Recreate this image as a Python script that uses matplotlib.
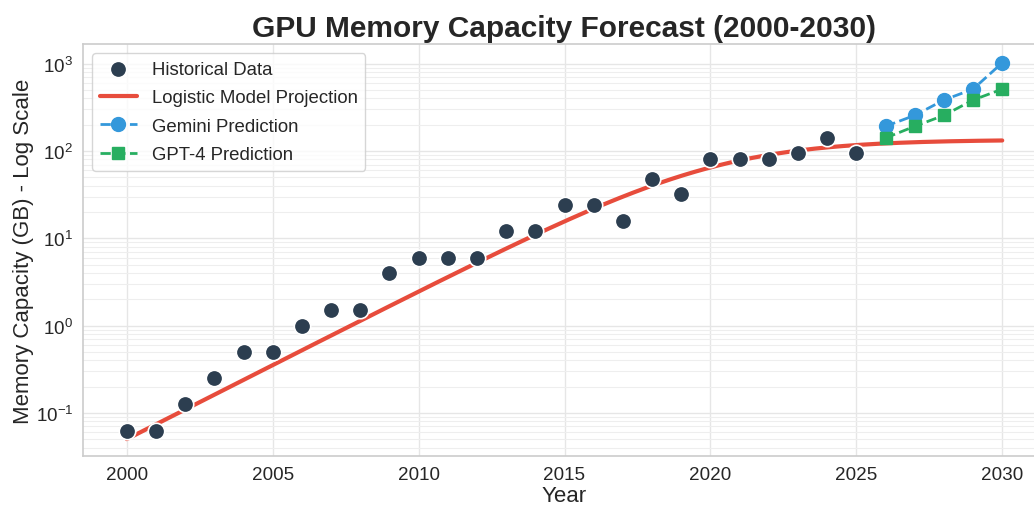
import numpy as np
import matplotlib
matplotlib.use("Agg")
import matplotlib.pyplot as plt
import seaborn as sns

sns.set_style("whitegrid")
plt.rcParams['font.family'] = ['Liberation Sans', 'DejaVu Sans']

hist_years = list(range(2000, 2026))
hist_values = [0.0625, 0.0625, 0.125, 0.25, 0.5, 0.5, 1, 1.5, 1.5, 4, 6, 6, 6,
               12, 12, 24, 24, 16, 48, 32, 80, 80, 80, 96, 141, 96]

pred_years = [2026, 2027, 2028, 2029, 2030]
gemini_values = [192, 256, 384, 512, 1024]
gpt4_values = [141, 192, 256, 384, 512]

# logistic model parameters
K = 135.0
r = 0.391
t0 = 2020.2
model_years = np.linspace(2000, 2030, 300)
model_values = K / (1 + np.exp(-r * (model_years - t0)))

fig = plt.figure(figsize=(10.34, 5.06), dpi=100)
ax = fig.add_axes([83 / 1034, 49 / 506, 963 / 1034, 412 / 506])

ax.plot(model_years, model_values, color='#e74c3c', lw=3, label='Logistic Model Projection', zorder=2)
ax.scatter(hist_years, hist_values, s=140, color='#2c3e50', edgecolors='white', linewidths=1.2,
           label='Historical Data', zorder=3)
ax.plot(pred_years, gemini_values, color='#3498db', ls='--', lw=2, marker='o', ms=10,
        label='Gemini Prediction', zorder=4)
ax.plot(pred_years, gpt4_values, color='#27ae60', ls='--', lw=2, marker='s', ms=9,
        label='GPT-4 Prediction', zorder=4)

ax.set_yscale('log')
ax.set_xlim(1998.5, 2031.5)
ax.set_ylim(10**-1.493, 10**3.226)
ax.grid(True, which='major', color='#e6e6e6', lw=1)
ax.grid(True, which='minor', color='#eeeeee', lw=0.8)
ax.tick_params(axis='both', labelsize=13.6, colors='#262626')
for s in ax.spines.values():
    s.set_color('#cccccc')
    s.set_linewidth(1.2)

ax.set_title('GPU Memory Capacity Forecast (2000-2030)', fontsize=21.5, fontweight='bold', color='#262626', pad=6)
ax.set_xlabel('Year', fontsize=16, color='#262626', labelpad=2)
ax.set_ylabel('Memory Capacity (GB) - Log Scale', fontsize=16, color='#262626', labelpad=1)

h, l = ax.get_legend_handles_labels()
order = [l.index('Historical Data'), l.index('Logistic Model Projection'),
         l.index('Gemini Prediction'), l.index('GPT-4 Prediction')]
ax.legend([h[i] for i in order], [l[i] for i in order], loc='upper left', fontsize=13.4,
          labelspacing=0.62, frameon=True, framealpha=0.8, edgecolor='#cccccc')

fig.savefig('out.png', dpi=100)
